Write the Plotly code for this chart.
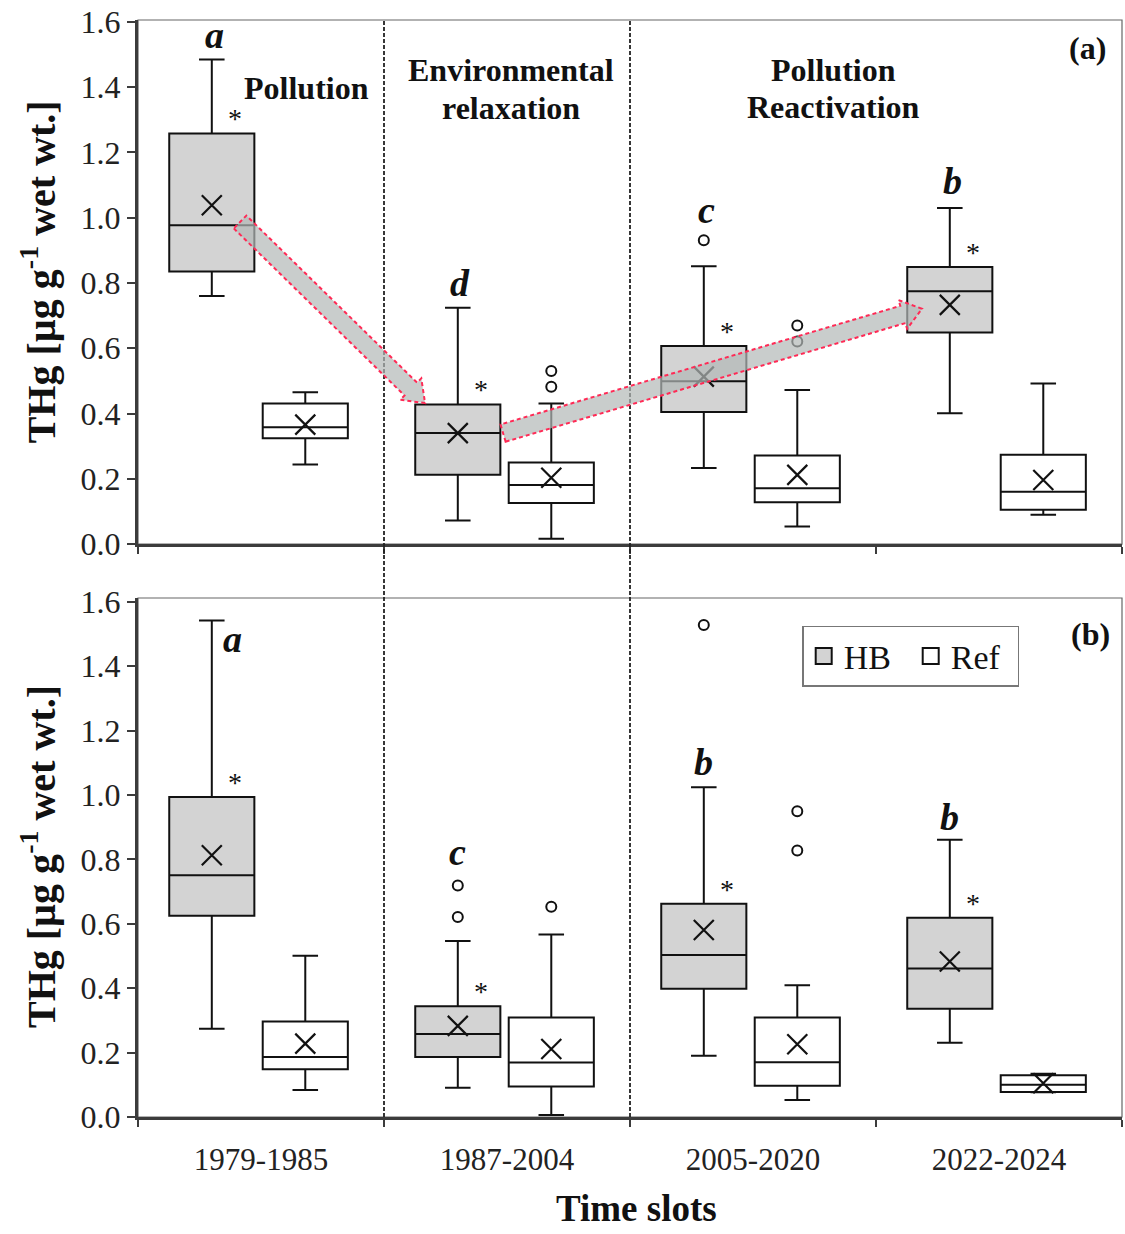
import math
import plotly.graph_objects as go

# ---------------- data ----------------
CATEGORIES = ["1979-1985", "1987-2004", "2005-2020", "2022-2024"]

# Panel (a)
A_HB_LOW = [0.760, 0.072, 0.233, 0.401]
A_HB_Q1 = [0.835, 0.212, 0.405, 0.648]
A_HB_MED = [0.977, 0.340, 0.499, 0.775]
A_HB_Q3 = [1.258, 0.428, 0.607, 0.849]
A_HB_HIGH = [1.485, 0.724, 0.851, 1.030]
A_HB_MEAN = [1.038, 0.340, 0.513, 0.733]
A_HB_OUT = [[], [], [0.931], []]

A_REF_LOW = [0.244, 0.016, 0.054, 0.090]
A_REF_Q1 = [0.324, 0.126, 0.128, 0.105]
A_REF_MED = [0.358, 0.181, 0.171, 0.160]
A_REF_Q3 = [0.431, 0.250, 0.271, 0.274]
A_REF_HIGH = [0.465, 0.431, 0.472, 0.492]
A_REF_MEAN = [0.366, 0.203, 0.212, 0.196]
A_REF_OUT = [[], [0.530, 0.482], [0.670, 0.621], []]

A_LETTERS = ["a", "d", "c", "b"]

# Panel (b)
B_HB_LOW = [0.274, 0.091, 0.190, 0.231]
B_HB_Q1 = [0.625, 0.186, 0.398, 0.336]
B_HB_MED = [0.751, 0.258, 0.503, 0.461]
B_HB_Q3 = [0.994, 0.344, 0.662, 0.619]
B_HB_HIGH = [1.542, 0.547, 1.024, 0.861]
B_HB_MEAN = [0.813, 0.283, 0.581, 0.483]
B_HB_OUT = [[], [0.719, 0.621], [1.528], []]

B_REF_LOW = [0.084, 0.006, 0.053, 0.077]
B_REF_Q1 = [0.148, 0.095, 0.097, 0.078]
B_REF_MED = [0.186, 0.169, 0.170, 0.100]
B_REF_Q3 = [0.297, 0.309, 0.309, 0.130]
B_REF_HIGH = [0.501, 0.567, 0.409, 0.134]
B_REF_MEAN = [0.228, 0.211, 0.226, 0.105]
B_REF_OUT = [[], [0.653], [0.950, 0.828], []]

B_LETTERS = ["a", "c", "b", "b"]

YTITLE = "<b>THg [µg g<sup>-1</sup> wet wt.]</b>"

# ---------------- layout geometry ----------------
W, H = 1125, 1234
ML, MR, MT, MB = 138, 3, 20, 117
PW = W - ML - MR
PH = H - MT - MB
DOM_A = [0.5223, 1.0]
DOM_B = [0.0, 0.4731]
YMAX_A = 1.606
YMAX_B = 1.612

FONT = "Liberation Serif"
HB_FILL = "#d3d3d3"
LINE = "#111111"
AXC = "#3c3c3c"

HB_OFF, REF_OFF, BOXW = 0.30, 0.68, 0.346
hb_x = [i + HB_OFF for i in range(4)]
ref_x = [i + REF_OFF for i in range(4)]

fig = go.Figure()


def add_panel(xa, ya, low, q1, med, q3, high, mean, outs, fill, name):
    pos = hb_x if name == "HB" else ref_x
    fig.add_trace(go.Box(
        x=pos, q1=q1, median=med, q3=q3, lowerfence=low, upperfence=high,
        width=BOXW, whiskerwidth=0.3, fillcolor=fill,
        line=dict(color=LINE, width=2), boxpoints=False,
        name=name, showlegend=False,
        xaxis=xa, yaxis=ya, hoverinfo="skip"))
    fig.add_trace(go.Scatter(
        x=pos, y=mean, mode="markers", showlegend=False, xaxis=xa, yaxis=ya,
        marker=dict(symbol="x-thin-open", size=20, color=LINE,
                    line=dict(width=2.2, color=LINE)),
        hoverinfo="skip"))
    ox, oy = [], []
    for p, vals in zip(pos, outs):
        for v in vals:
            ox.append(p)
            oy.append(v)
    if ox:
        fig.add_trace(go.Scatter(
            x=ox, y=oy, mode="markers", showlegend=False, xaxis=xa, yaxis=ya,
            marker=dict(symbol="circle-open", size=10, color=LINE,
                        line=dict(width=2, color=LINE)),
            hoverinfo="skip"))


add_panel("x", "y", A_HB_LOW, A_HB_Q1, A_HB_MED, A_HB_Q3, A_HB_HIGH, A_HB_MEAN, A_HB_OUT, HB_FILL, "HB")
add_panel("x", "y", A_REF_LOW, A_REF_Q1, A_REF_MED, A_REF_Q3, A_REF_HIGH, A_REF_MEAN, A_REF_OUT, "white", "Ref")
add_panel("x2", "y2", B_HB_LOW, B_HB_Q1, B_HB_MED, B_HB_Q3, B_HB_HIGH, B_HB_MEAN, B_HB_OUT, HB_FILL, "HB")
add_panel("x2", "y2", B_REF_LOW, B_REF_Q1, B_REF_MED, B_REF_Q3, B_REF_HIGH, B_REF_MEAN, B_REF_OUT, "white", "Ref")

# legend entries (square swatches)
for nm, fc in [("HB", HB_FILL), ("Ref", "white")]:
    fig.add_trace(go.Scatter(
        x=[None], y=[None], mode="markers", name=nm, xaxis="x2", yaxis="y2",
        marker=dict(symbol="square", size=18, color=fc, line=dict(width=2, color=LINE))))

# ---------------- axes ----------------
xcommon = dict(range=[0, 4], showgrid=False, zeroline=False, showline=True,
               linecolor=AXC, linewidth=3, tickmode="array",
               tickvals=[i + 0.5 for i in range(4)], ticktext=CATEGORIES,
               ticks="outside", ticklen=13, tickcolor="rgba(0,0,0,0)",
               tickfont=dict(family=FONT, size=31, color="#222"),
               minor=dict(tickmode="array", tickvals=[0, 1, 2, 3, 4], ticks="outside",
                          ticklen=7, tickwidth=2, tickcolor=AXC, showgrid=False))
ycommon = dict(showgrid=False, zeroline=False, showline=True, linecolor=AXC, linewidth=3,
               tickmode="linear", tick0=0, dtick=0.2, tickformat=".1f",
               ticks="outside", ticklen=8, tickwidth=2, tickcolor=AXC,
               ticklabeloverflow="allow",
               tickfont=dict(family=FONT, size=32, color="#222"))

fig.update_layout(
    xaxis=dict(**xcommon, anchor="y", domain=[0, 1], showticklabels=False),
    yaxis=dict(**ycommon, anchor="x", domain=DOM_A, range=[0, YMAX_A]),
    xaxis2=dict(**xcommon, anchor="y2", domain=[0, 1], matches="x"),
    yaxis2=dict(**ycommon, anchor="x2", domain=DOM_B, range=[0, YMAX_B]),
)

shapes = []
for xr, yr in [("x domain", "y domain"), ("x2 domain", "y2 domain")]:
    shapes.append(dict(type="rect", xref=xr, yref=yr, x0=0, x1=1, y0=0, y1=1,
                       line=dict(color="#666", width=1.2), layer="below"))
for xv in [1, 2]:
    shapes.append(dict(type="line", xref="x", yref="paper", x0=xv, x1=xv, y0=0, y1=1,
                       line=dict(color="#222", width=1.8, dash="4px,2px")))


# ---------------- arrows (panel a) ----------------
def _panel_a_box():
    top = MT + (1 - DOM_A[1]) * PH
    hgt = (DOM_A[1] - DOM_A[0]) * PH
    return top, hgt


def to_px(x, y):
    top, hgt = _panel_a_box()
    return ML + x / 4 * PW, top + (1 - y / YMAX_A) * hgt


def to_data(px, py):
    top, hgt = _panel_a_box()
    return (px - ML) / PW * 4, (1 - (py - top) / hgt) * YMAX_A


def arrow_path(p0, p1, hw=9, hhw=15, hl=20):
    x0, y0 = to_px(*p0)
    x1, y1 = to_px(*p1)
    L = math.hypot(x1 - x0, y1 - y0)
    ux, uy = (x1 - x0) / L, (y1 - y0) / L
    nx, ny = -uy, ux
    bx, by = x1 - ux * hl, y1 - uy * hl
    pts = [(x0 + nx * hw, y0 + ny * hw), (bx + nx * hw, by + ny * hw),
           (bx + nx * hhw, by + ny * hhw), (x1, y1),
           (bx - nx * hhw, by - ny * hhw), (bx - nx * hw, by - ny * hw),
           (x0 - nx * hw, y0 - ny * hw)]
    d = []
    for k, (px, py) in enumerate(pts):
        x, y = to_data(px, py)
        d.append(("M" if k == 0 else "L") + f"{x:.5f},{y:.5f}")
    return " ".join(d) + " Z"


ARROWS = [((0.415, 0.987), (1.167, 0.432)), ((1.484, 0.340), (3.187, 0.721))]
for a0, a1 in ARROWS:
    shapes.append(dict(type="path", xref="x", yref="y", path=arrow_path(a0, a1),
                       fillcolor="rgba(178,184,182,0.7)",
                       line=dict(color="#ff2a55", width=2, dash="4px,3px"), layer="above"))

fig.update_layout(shapes=shapes)

# ---------------- annotations ----------------
ann = []


def txt(x, y, s, size, xref="x", yref="y", **kw):
    d = dict(x=x, y=y, xref=xref, yref=yref, text=s, showarrow=False,
             xanchor="center", yanchor="middle",
             font=dict(family=FONT, size=size, color="#111"))
    d.update(kw)
    ann.append(d)


# phase labels
txt(0.683, 1.398, "<b>Pollution</b>", 32)
txt(1.516, 1.453, "<b>Environmental</b>", 32)
txt(1.516, 1.336, "<b>relaxation</b>", 32)
txt(2.829, 1.453, "<b>Pollution</b>", 32)
txt(2.829, 1.339, "<b>Reactivation</b>", 32)
txt(3.86, 1.52, "<b>(a)</b>", 32)
txt(3.87, 1.50, "<b>(b)</b>", 32, xref="x2", yref="y2")

# significance letters (label positions) and asterisks
A_LETTER_POS = [(0.01, 1.560), (0.01, 0.800), (0.01, 1.025), (0.01, 1.113)]
B_LETTER_POS = [(0.085, 1.485), (0.0, 0.822), (0.0, 1.103), (0.0, 0.932)]
for i in range(4):
    dx, yy = A_LETTER_POS[i]
    txt(hb_x[i] + dx, yy, f"<b><i>{A_LETTERS[i]}</i></b>", 38)
    txt(hb_x[i] + 0.095, A_HB_Q3[i] + 0.045, "*", 28)
    dx, yy = B_LETTER_POS[i]
    txt(hb_x[i] + dx, yy, f"<b><i>{B_LETTERS[i]}</i></b>", 38, xref="x2", yref="y2")
    txt(hb_x[i] + 0.095, B_HB_Q3[i] + 0.045, "*", 28, xref="x2", yref="y2")

# axis titles
txt(-0.1016, 0.770, YTITLE, 40, xref="paper", yref="paper", textangle=-90)
txt(-0.1016, 0.237, YTITLE, 40, xref="paper", yref="paper", textangle=-90)
txt(0.507, -0.0835, "<b>Time slots</b>", 37, xref="paper", yref="paper")

fig.update_layout(
    annotations=ann,
    width=W, height=H,
    margin=dict(l=ML, r=MR, t=MT, b=MB, autoexpand=False),
    paper_bgcolor="white", plot_bgcolor="white",
    font=dict(family=FONT, color="#111"),
    boxmode="overlay",
    legend=dict(x=0.675, y=0.4476, xanchor="left", yanchor="top", orientation="h",
                bordercolor="#777", borderwidth=1.5, bgcolor="white",
                font=dict(family=FONT, size=34, color="#111"),
                entrywidth=62, entrywidthmode="pixels", tracegroupgap=0),
)

fig.write_html("out.html", config={"displayModeBar": False},
               post_script="document.body.style.margin='0';")
